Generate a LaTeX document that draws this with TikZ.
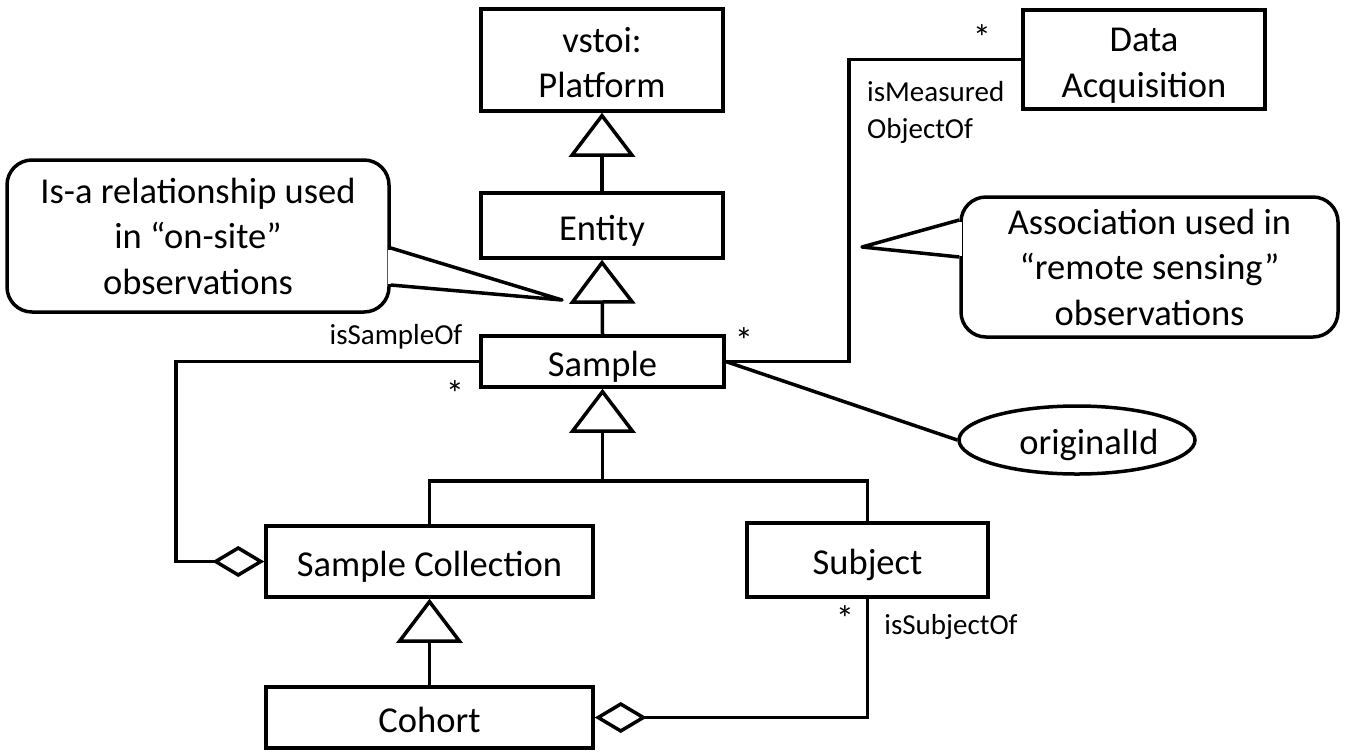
\documentclass[tikz,border=0pt]{standalone}
\usepackage{fontspec}
\setmainfont{Carlito}
\usetikzlibrary{arrows.meta,shapes.geometric,calc}
\newcommand{\mybigfont}{\fontsize{36.5}{45.5}\selectfont}
\newcommand{\mysmallfont}{\fontsize{29}{37}\selectfont}
\newcommand{\toplinestrut}{\rule{0pt}{1.06em}}
\newcommand{\botlinestrut}{\rule[-0.25em]{0pt}{0pt}}
\begin{document}
\begin{tikzpicture}[x=1pt,y=-1pt,
  lw/.style={line width=3.5pt},
  cls/.style={draw,lw,rectangle,inner sep=0pt,align=center,font=\mybigfont,fill=white},
  oval/.style={draw,lw,ellipse,inner sep=0pt,font=\mybigfont,fill=white},
  calloutbox/.style={draw,lw,rectangle,rounded corners=25pt,inner sep=0pt,align=center,font=\mybigfont},
  lbl/.style={inner sep=0pt,font=\mysmallfont},
  mult/.style={inner sep=0pt,font=\mybigfont},
  isa/.style={lw,-{Triangle[open,length=44pt,width=66pt]}},
  agg/.style={lw,-{Diamond[open,length=52pt,width=31pt]}},
  assoc/.style={lw},
  pointer/.style={lw,line join=round}]
\useasboundingbox (0,0) rectangle (1346,753);

% classes
\node[cls,minimum width=242pt,minimum height=102pt] (plat) at (602,60) {\toplinestrut vstoi:\\Platform\botlinestrut};
\node[cls,minimum width=242pt,minimum height=65pt] (ent) at (602,225.5) {\toplinestrut Entity\botlinestrut};
\node[cls,minimum width=243pt,minimum height=51pt] (samp) at (602.5,361.5) {\toplinestrut Sample\botlinestrut};
\node[cls,minimum width=327pt,minimum height=71pt] (sc) at (429.5,561.5) {\toplinestrut Sample Collection\botlinestrut};
\node[cls,minimum width=241pt,minimum height=74pt] (subj) at (867.5,560) {\toplinestrut Subject\botlinestrut};
\node[cls,minimum width=327pt,minimum height=61pt] (coh) at (429.5,717.5) {\toplinestrut Cohort\botlinestrut};
\node[cls,minimum width=242pt,minimum height=99pt] (da) at (1144,59.5) {\toplinestrut Data\\Acquisition\botlinestrut};
\node[oval,minimum width=236pt,minimum height=68pt] (oid) at (1077,440) {\toplinestrut\hspace*{24pt}originalId\botlinestrut};

% generalizations
\draw[isa] (ent.north) -- (plat.south);
\draw[isa] (samp.north) -- (ent.south);
\coordinate (j) at (602.5,481);
\draw[isa] (j) -- (samp.south);
\draw[assoc] (sc.north) -- (sc.north |- j) -- (subj.north |- j) -- (subj.north);
\draw[isa] (coh.north) -- (sc.south);

% aggregations
\coordinate (c1) at (176,361.5);
\draw[agg] (samp.west) -- (c1) |- (sc.west);
\draw[agg] (subj.south) |- (coh.east);

% associations
\coordinate (c2) at (849,361.5);
\draw[assoc] (samp.east) -- (c2) |- (da.west);
\draw[assoc] (samp.east) -- (oid.west);

% labels
\node[mult] (m1) at (982,38) {*};
\node[mult] (m2) at (744,341) {*};
\node[mult] (m3) at (455,394) {*};
\node[mult] (m4) at (845,619) {*};
\node[lbl] (l1) at (396,337) {isSampleOf};
\node[lbl,anchor=north west,align=left] (l2) at (867,81) {isMeasured\\ObjectOf};
\node[lbl] (l3) at (951,627) {isSubjectOf};

% callouts
\node[calloutbox,minimum width=382pt,minimum height=152pt] (co1) at (198,236)
  {Is-a relationship used\\in “on-site”\\observations};
\coordinate (t1) at (562,300);
\fill[white] ($(co1.east)+(-3,13.5)$) rectangle ($(co1.east)+(3,47.5)$);
\draw[pointer] ($(co1.east)+(0,12)$) -- (t1) -- ($(co1.east)+(0,49)$);

\node[calloutbox,minimum width=377pt,minimum height=140pt] (co2) at (1149.5,267)
  {Association used in\\“remote sensing”\\observations};
\coordinate (t2) at (862,247);
\fill[white] ($(co2.west)+(-3,-45.5)$) rectangle ($(co2.west)+(3,-11.5)$);
\draw[pointer] ($(co2.west)+(0,-47)$) -- (t2) -- ($(co2.west)+(0,-10)$);
\end{tikzpicture}
\end{document}
